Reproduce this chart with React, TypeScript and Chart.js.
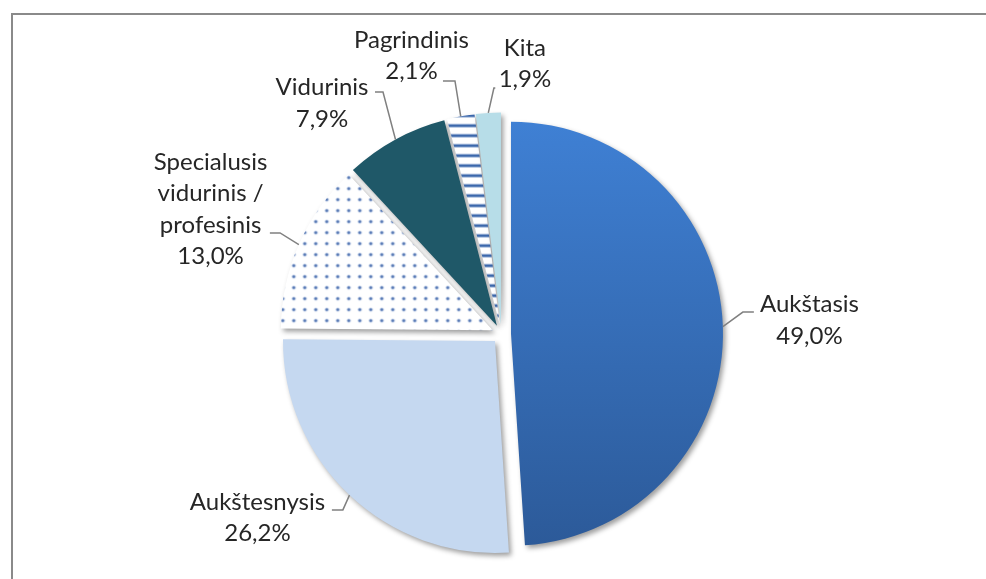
import React, { useEffect, useRef } from 'react';
import { Chart, registerables } from 'chart.js';

Chart.register(...registerables);

// ---- data ----
const categories = ['Aukštasis', 'Aukštesnysis', 'Specialusis vidurinis / profesinis', 'Vidurinis', 'Pagrindinis', 'Kita'];
const labelLines = [['Aukštasis'], ['Aukštesnysis'], ['Specialusis', 'vidurinis /', 'profesinis'], ['Vidurinis'], ['Pagrindinis'], ['Kita']];
const shares = [49.0, 26.2, 13.0, 7.9, 2.1, 1.9];

// ---- styling / layout ----
const EXPLODE = 9.5;
const RADIUS = 212;
const FONT = '24px Lato, "Open Sans", sans-serif';
const LINE_H = 31.5;
const TEXT_COLOR = '#262626';
const LEADER_COLOR = '#808080';
// offsets relative to the slice's outer anchor point: text centre/baseline, elbow, end of leader
const labelLayout = [
  { tx: 86.6, ty: -14.6, ex: 20, ey: -14.6, fx: 31, fy: -14.6 },
  { tx: -92, ty: 14.8, ex: -6.6, ey: 14.8, fx: -17.6, fy: 14.8 },
  { tx: -88.3, ty: -74.6, ex: -18.8, ey: -11.6, fx: -29, fy: -11.6 },
  { tx: -73.5, ty: -44.5, ex: -12.5, ey: -47.5, fx: -20.5, fy: -47.5 },
  { tx: -49.25, ty: -68.3, ex: -5.75, ey: -35.3, fx: -17.75, fy: -35.3 },
  { tx: 36.6, ty: -56.9, ex: 5.6, ey: -24.9, fx: 7, fy: -24.9 },
];
const solidColors = ['#3a78c8', '#c5d8f0', '#ffffff', '#1f5868', '#ffffff', '#b7dde8'];

const fmt = (v: number) => v.toFixed(1).replace('.', ',') + '%';

function makeDots(ctx: CanvasRenderingContext2D) {
  const c = document.createElement('canvas');
  c.width = 11; c.height = 11;
  const g = c.getContext('2d')!;
  g.fillStyle = '#ffffff'; g.fillRect(0, 0, 11, 11);
  g.fillStyle = 'rgba(140,165,210,0.6)';
  g.beginPath(); g.arc(5.5, 5.5, 2.1, 0, Math.PI * 2); g.fill();
  g.fillStyle = '#4a6fae';
  g.beginPath(); g.arc(5.5, 5.5, 1.2, 0, Math.PI * 2); g.fill();
  return ctx.createPattern(c, 'repeat');
}

function makeStripes(ctx: CanvasRenderingContext2D) {
  const c = document.createElement('canvas');
  c.width = 10; c.height = 10;
  const g = c.getContext('2d')!;
  g.fillStyle = '#ffffff'; g.fillRect(0, 0, 10, 10);
  g.fillStyle = '#a6bbdc'; g.fillRect(0, 3, 10, 4);
  g.fillStyle = '#3b67ab'; g.fillRect(0, 4, 10, 2);
  return ctx.createPattern(c, 'repeat');
}

function fillFor(index: number, chart: any) {
  const ctx: CanvasRenderingContext2D = chart.ctx;
  const area = chart.chartArea;
  if (index === 0 && area) {
    const cy = (area.top + area.bottom) / 2;
    const gr = ctx.createLinearGradient(0, cy - RADIUS, 0, cy + RADIUS);
    gr.addColorStop(0, '#3f80d4');
    gr.addColorStop(1, '#2c5a99');
    return gr;
  }
  if (index === 2) return makeDots(ctx) || solidColors[2];
  if (index === 4) return makeStripes(ctx) || solidColors[4];
  return solidColors[index];
}

const explodePlugin = {
  id: 'explodeDraw',
  beforeDraw(chart: any) {
    const ctx = chart.ctx;
    ctx.save();
    ctx.strokeStyle = '#8a8a8a';
    ctx.lineWidth = 2;
    ctx.strokeRect(12, 14, 1200, 800);
    ctx.restore();
  },
  beforeDatasetsDraw(chart: any) {
    const ctx: CanvasRenderingContext2D = chart.ctx;
    const meta = chart.getDatasetMeta(0);
    ctx.save();
    ctx.shadowColor = 'rgba(0,0,0,0.38)';
    ctx.shadowBlur = 5;
    ctx.shadowOffsetX = 2.5;
    ctx.shadowOffsetY = 3;
    meta.data.forEach((arc: any) => {
      const mid = (arc.startAngle + arc.endAngle) / 2;
      ctx.save();
      ctx.translate(Math.cos(mid) * EXPLODE, Math.sin(mid) * EXPLODE);
      arc.draw(ctx);
      ctx.restore();
    });
    ctx.restore();
    return false;
  },
  afterDraw(chart: any) {
    const ctx: CanvasRenderingContext2D = chart.ctx;
    const meta = chart.getDatasetMeta(0);
    ctx.save();
    meta.data.forEach((arc: any, i: number) => {
      const mid = (arc.startAngle + arc.endAngle) / 2;
      const d = EXPLODE + arc.outerRadius;
      const ax = arc.x + Math.cos(mid) * d;
      const ay = arc.y + Math.sin(mid) * d;
      const L = labelLayout[i];
      ctx.strokeStyle = LEADER_COLOR;
      ctx.lineWidth = 1.5;
      ctx.beginPath();
      ctx.moveTo(ax, ay);
      ctx.lineTo(ax + L.ex, ay + L.ey);
      ctx.lineTo(ax + L.fx, ay + L.fy);
      ctx.stroke();
      const lines = [...labelLines[i], fmt(shares[i])];
      ctx.fillStyle = TEXT_COLOR;
      ctx.font = FONT;
      ctx.textAlign = 'center';
      ctx.textBaseline = 'alphabetic';
      lines.forEach((t, k) => {
        ctx.fillText(t, ax + L.tx, ay + L.ty + k * LINE_H);
      });
    });
    ctx.restore();
  },
};

export default function App() {
  const ref = useRef<HTMLCanvasElement | null>(null);
  useEffect(() => {
    if (!ref.current) return;
    const chart = new Chart(ref.current, {
      type: 'pie',
      data: {
        labels: categories,
        datasets: [
          {
            data: shares,
            backgroundColor: (c: any) => fillFor(c.dataIndex, c.chart),
            borderWidth: 0,
            offset: 0,
          },
        ],
      },
      options: {
        responsive: false,
        animation: false,
        radius: RADIUS,
        layout: { padding: { left: 17, top: 89, right: 0, bottom: 0 } },
        plugins: { legend: { display: false }, tooltip: { enabled: false } },
        events: [],
      } as any,
      plugins: [explodePlugin],
    });
    return () => chart.destroy();
  }, []);
  return (
    <div style={{ position: 'absolute', left: 0, top: 0, width: 986, height: 579, background: '#fff', overflow: 'hidden' }}>
      <canvas ref={ref} width={986} height={579} style={{ display: 'block' }} />
    </div>
  );
}
